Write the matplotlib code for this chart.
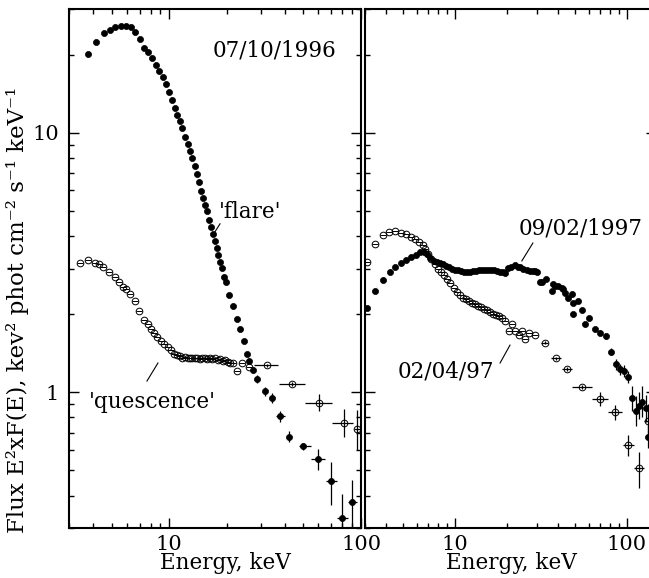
import matplotlib
matplotlib.use("Agg")
import matplotlib.pyplot as plt
import numpy as np
from matplotlib.ticker import FixedLocator, FixedFormatter, LogLocator, NullFormatter

plt.rcParams["font.family"] = ["DejaVu Serif", "DejaVu Sans"]

# ---- 07/10/1996, 'flare' (filled) ----
flare_E = [3.78, 4.16, 4.55, 4.89, 5.21, 5.58, 5.94, 6.31, 6.65, 7.03, 7.38, 7.74, 8.13, 8.49,
           8.87, 9.24, 9.58, 9.93, 10.3, 10.7, 11.0, 11.4, 11.7, 12.1, 12.5, 12.8, 13.2, 13.6,
           14.0, 14.3, 14.6, 15.0, 15.4, 15.8, 16.2, 16.6, 17.0, 17.3, 17.7, 18.0, 18.4, 18.8,
           19.2, 19.7, 20.4, 21.6, 22.6, 23.4, 24.5, 25.3]
flare_F = [20.1, 22.4, 24.2, 24.9, 25.5, 25.9, 25.9, 25.6, 24.5, 22.9, 21.3, 20.4, 19.4, 18.3,
           17.3, 16.4, 15.4, 14.4, 13.4, 12.5, 11.7, 11.1, 10.4, 9.66, 9.05, 8.51, 7.98, 7.47,
           6.95, 6.44, 5.98, 5.62, 5.28, 4.98, 4.61, 4.32, 4.06, 3.84, 3.59, 3.37, 3.19, 3.01,
           2.79, 2.65, 2.38, 2.16, 1.92, 1.76, 1.57, 1.41]
flare_eE = [25.9, 27.3, 28.8, 31.5, 34.4, 37.9, 42.3, 50.0, 59.7, 69.5, 79.9, 90.1]
flare_eF = [1.32, 1.22, 1.13, 1.01, 0.95, 0.81, 0.675, 0.62, 0.553, 0.455, 0.329, 0.377]
flare_Elo = [25.9, 27.3, 28.8, 31.5, 34.4, 36.0, 42.3, 47.5, 54.8, 65.7, 74.6, 85.9]
flare_Ehi = [25.9, 27.3, 28.8, 31.5, 34.4, 40.2, 42.3, 54.7, 65.1, 74.6, 85.9, 95.0]
flare_Flo = [1.30, 1.19, 1.09, 0.97, 0.91, 0.77, 0.645, 0.60, 0.502, 0.368, 0.25, 0.303]
flare_Fhi = [1.34, 1.25, 1.17, 1.05, 0.99, 0.847, 0.707, 0.64, 0.603, 0.540, 0.405, 0.459]

# ---- 07/10/1996, 'quescence' (open) ----
quies_E = [3.42, 3.79, 4.12, 4.28, 4.53, 4.87, 5.21, 5.48, 5.73, 5.94, 6.26, 6.65, 6.95, 7.41,
           7.71, 8.00, 8.30, 8.66, 9.06, 9.42, 9.81, 10.2, 10.6, 11.0, 11.4, 11.7, 12.1, 12.5,
           12.8, 13.2, 13.6, 14.0, 14.5, 14.9, 15.4, 15.8, 16.3, 16.8, 17.3, 17.9, 18.4, 19.0,
           19.6, 20.2, 20.8, 21.6, 22.5, 23.9, 26.1]
quies_F = [3.16, 3.24, 3.15, 3.11, 3.05, 2.91, 2.77, 2.65, 2.55, 2.50, 2.39, 2.24, 2.05, 1.90,
           1.83, 1.76, 1.70, 1.63, 1.58, 1.53, 1.49, 1.45, 1.41, 1.39, 1.38, 1.36, 1.37, 1.36,
           1.35, 1.36, 1.35, 1.36, 1.34, 1.35, 1.36, 1.34, 1.35, 1.34, 1.36, 1.33, 1.34, 1.32,
           1.33, 1.31, 1.30, 1.30, 1.21, 1.30, 1.255]
quies_eE = [32.3, 43.8, 60.6, 81.3, 95.7]
quies_eF = [1.27, 1.08, 0.913, 0.764, 0.719]
quies_Elo = [27.7, 37.2, 51.2, 70.8, 91.5]
quies_Ehi = [36.8, 51.0, 70.8, 91.2, 100.5]
quies_Flo = [1.25, 1.06, 0.847, 0.671, 0.60]
quies_Fhi = [1.29, 1.10, 0.982, 0.86, 0.855]

# ---- 02/04/97 (open) ----
apr_E = [3.08, 3.44, 3.80, 4.12, 4.50, 4.87, 5.21, 5.57, 5.88, 6.20, 6.49, 6.72, 7.00, 7.28,
         7.62, 7.96, 8.29, 8.63, 8.99, 9.39, 9.83, 10.3, 10.7, 11.2, 11.6, 12.1, 12.6, 13.1,
         13.6, 14.2, 14.7, 15.3, 16.0, 16.6, 17.3, 18.0, 18.8, 19.5, 20.7, 21.5, 22.4, 23.7,
         24.4, 25.5, 26.9, 29.3]
apr_F = [3.19, 3.72, 4.03, 4.15, 4.20, 4.12, 4.06, 3.98, 3.90, 3.80, 3.70, 3.56, 3.41, 3.25,
         3.11, 3.00, 2.92, 2.83, 2.73, 2.63, 2.53, 2.44, 2.37, 2.31, 2.28, 2.24, 2.21, 2.18,
         2.16, 2.13, 2.10, 2.07, 2.04, 2.01, 1.99, 1.96, 1.93, 1.89, 1.73, 1.83, 1.73, 1.66,
         1.73, 1.60, 1.70, 1.67]
apr_eE = [33.2, 38.5, 44.6, 55.0, 70.0, 85.5, 101, 117, 132]
apr_eF = [1.55, 1.35, 1.23, 1.05, 0.942, 0.838, 0.627, 0.509, 0.773]
apr_Elo = [31.8, 36.1, 41.7, 48.1, 62.8, 77.8, 94.4, 110, 126]
apr_Ehi = [34.6, 41.2, 47.7, 62.8, 77.8, 93.5, 110, 125, 139]
apr_Flo = [1.53, 1.33, 1.21, 1.03, 0.886, 0.782, 0.568, 0.427, 0.66]
apr_Fhi = [1.57, 1.37, 1.25, 1.07, 1.0, 0.893, 0.685, 0.590, 0.90]

# ---- 09/02/1997 (filled) ----
sep_E = [3.08, 3.44, 3.80, 4.17, 4.50, 4.87, 5.21, 5.57, 5.93, 6.29, 6.58, 6.87, 7.12, 7.52,
         7.86, 8.18, 8.51, 8.87, 9.23, 9.61, 10.0, 10.4, 10.8, 11.3, 11.7, 12.2, 12.7, 13.2,
         13.8, 14.4, 14.9, 15.6, 16.2, 16.9, 17.5, 18.3, 19.0, 19.5, 20.4, 21.2, 22.3, 23.2,
         23.9, 25.0, 26.1, 27.3, 28.4, 29.2, 30.1, 31.2, 31.9, 33.8, 36.5, 37.3, 38.1, 39.9,
         41.7, 42.6, 43.6, 45.6, 47.7, 48.8, 52.1, 48.3, 54.7, 57.0, 60.4]
sep_F = [2.11, 2.46, 2.71, 2.90, 3.05, 3.16, 3.24, 3.31, 3.39, 3.46, 3.48, 3.41, 3.30, 3.21,
         3.18, 3.14, 3.11, 3.07, 3.04, 3.00, 2.97, 2.95, 2.93, 2.91, 2.91, 2.92, 2.93, 2.93,
         2.95, 2.95, 2.96, 2.96, 2.95, 2.95, 2.93, 2.92, 2.90, 2.88, 3.02, 3.04, 3.09, 3.05,
         3.03, 2.99, 2.96, 2.93, 2.93, 2.94, 2.92, 2.65, 2.65, 2.73, 2.45, 2.61, 2.57, 2.57,
         2.52, 2.49, 2.41, 2.30, 2.39, 2.20, 2.25, 2.00, 2.07, 1.83, 1.93]
sep_eE = [65.2, 70.0, 75.2, 80.4, 85.9, 90.9, 96.3, 102, 107, 113, 117, 123, 129, 133]
sep_eF = [1.75, 1.70, 1.65, 1.43, 1.28, 1.23, 1.21, 1.15, 0.948, 0.847, 0.888, 0.92, 0.868, 0.675]
sep_Flo = [1.72, 1.66, 1.61, 1.39, 1.22, 1.17, 1.15, 1.09, 0.85, 0.74, 0.79, 0.80, 0.77, 0.61]
sep_Fhi = [1.78, 1.74, 1.69, 1.48, 1.34, 1.29, 1.27, 1.21, 1.06, 0.97, 1.00, 1.06, 0.98, 0.75]

W, H = 649, 578
FS = 15.5


def filled(ax, E, F):
    ax.plot(E, F, ls="none", marker="o", ms=4.4, mfc="black", mec="black", mew=0.5)


def hollow(ax, E, F):
    ax.plot(E, F, ls="none", marker="o", ms=4.8, mfc="none", mec="black", mew=0.7)
    ax.plot(E, F, ls="none", marker="_", ms=4.8, mec="black", mew=0.7)


def with_err(ax, E, F, Elo, Ehi, Flo, Fhi, fill):
    E, F = np.array(E), np.array(F)
    xerr = [E - np.array(Elo), np.array(Ehi) - E]
    yerr = [F - np.array(Flo), np.array(Fhi) - F]
    ax.errorbar(E, F, xerr=xerr, yerr=yerr, fmt="none", ecolor="black", elinewidth=0.9, capsize=0)
    if fill:
        filled(ax, E, F)
    else:
        ax.plot(E, F, ls="none", marker="o", ms=4.8, mfc="none", mec="black", mew=0.7)


def style(ax, xmax, ylabels):
    ax.set_xscale("log")
    ax.set_yscale("log")
    ax.set_xlim(3, xmax)
    ax.set_ylim(0.3, 30)
    ax.xaxis.set_major_locator(FixedLocator([10, 100]))
    ax.xaxis.set_major_formatter(FixedFormatter(["10", "100"]))
    ax.xaxis.set_minor_locator(LogLocator(base=10, subs=np.arange(2, 10)))
    ax.xaxis.set_minor_formatter(NullFormatter())
    ax.yaxis.set_major_locator(FixedLocator([1, 10]))
    ax.yaxis.set_major_formatter(FixedFormatter(["1", "10"] if ylabels else ["", ""]))
    ax.yaxis.set_minor_locator(LogLocator(base=10, subs=np.arange(2, 10)))
    ax.yaxis.set_minor_formatter(NullFormatter())
    ax.tick_params(which="both", direction="in", top=True, right=True, width=1.0,
                   labelsize=15, colors="black")
    ax.tick_params(which="major", length=7.2)
    ax.tick_params(which="minor", length=3.6)
    ax.tick_params(axis="x", pad=5)
    ax.tick_params(axis="y", pad=7)
    for s in ax.spines.values():
        s.set_linewidth(1.5)


fig = plt.figure(figsize=(W / 100, H / 100), dpi=100)
axL = fig.add_axes([69 / W, 50 / H, 292 / W, 519 / H])
axR = fig.add_axes([365 / W, 50 / H, 291 / W, 519 / H])

style(axL, 100, True)
style(axR, 147.6, False)

# left panel
filled(axL, flare_E, flare_F)
with_err(axL, flare_eE, flare_eF, flare_Elo, flare_Ehi, flare_Flo, flare_Fhi, True)
hollow(axL, quies_E, quies_F)
with_err(axL, quies_eE, quies_eF, quies_Elo, quies_Ehi, quies_Flo, quies_Fhi, False)

axL.text(35.5, 20.8, "07/10/1996", fontsize=FS, ha="center", va="center")
axL.text(26.4, 4.95, "'flare'", fontsize=FS, ha="center", va="center")
axL.plot([16.9, 18.4], [4.04, 4.46], color="black", lw=0.8)
axL.text(8.17, 0.918, "'quescence'", fontsize=FS, ha="center", va="center")
axL.plot([7.65, 8.73], [1.105, 1.297], color="black", lw=0.8)

# right panel
hollow(axR, apr_E, apr_F)
with_err(axR, apr_eE, apr_eF, apr_Elo, apr_Ehi, apr_Flo, apr_Fhi, False)
filled(axR, sep_E, sep_F)
with_err(axR, sep_eE, sep_eF, sep_eE, sep_eE, sep_Flo, sep_Fhi, True)

axR.text(54.0, 4.26, "09/02/1997", fontsize=FS, ha="center", va="center")
axR.plot([24.5, 28.4], [3.21, 3.76], color="black", lw=0.8)
axR.text(8.81, 1.208, "02/04/97", fontsize=FS, ha="center", va="center")
axR.plot([18.3, 20.9], [1.297, 1.52], color="black", lw=0.8)

fig.text(225 / W, 1 - 563 / H, "Energy, keV", fontsize=FS, ha="center", va="center")
fig.text(511 / W, 1 - 563 / H, "Energy, keV", fontsize=FS, ha="center", va="center")
fig.text(18 / W, 1 - 310 / H, "Flux E²xF(E), kev² phot cm⁻² s⁻¹ keV⁻¹", fontsize=16.5,
         ha="center", va="center", rotation=90)

fig.savefig("out.png", dpi=100)
